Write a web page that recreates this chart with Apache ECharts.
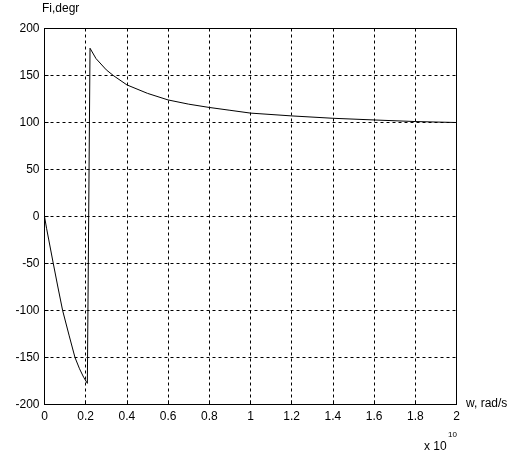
<!DOCTYPE html>
<html>
<head>
<meta charset="utf-8">
<script src="https://cdn.jsdelivr.net/npm/echarts@6/dist/echarts.min.js"></script>
<style>
html,body{margin:0;padding:0;background:#fff;}
#chart{width:511px;height:452px;}
</style>
</head>
<body>
<div id="chart"></div>
<script>
// Frequency w (units of 1e10 rad/s) and phase Fi (degrees)
var wVals   = [0, 0.01, 0.02, 0.0427, 0.065, 0.088, 0.12, 0.148, 0.17, 0.19, 0.208, 0.2125, 0.221, 0.25, 0.3, 0.334, 0.4, 0.5, 0.6, 0.7, 0.8, 0.9, 1.0, 1.2, 1.4, 1.6, 1.8, 2.0];
var phiVals = [0, -12.5, -24, -50, -75, -100, -127, -150, -162, -171, -177.5, -176, 179, 168, 156, 150, 140, 131, 124, 119.5, 116, 113, 110, 107, 104.5, 102.7, 101, 100];
var xTicks = [0, 0.2, 0.4, 0.6, 0.8, 1, 1.2, 1.4, 1.6, 1.8, 2];
var yTicks = [-200, -150, -100, -50, 0, 50, 100, 150, 200];
var yName = 'Fi,degr';
var xName = 'w, rad/s';

var pts = wVals.map(function (w, i) { return [w, phiVals[i]]; });
var font = 'Liberation Sans, Arial, sans-serif';

var chart = echarts.init(document.getElementById('chart'), null, {renderer: 'canvas'});
chart.setOption({
  animation: false,
  backgroundColor: '#fff',
  grid: {left: 44.5, top: 28.5, right: 54.5, bottom: 47.5, show: true, borderColor: '#000', borderWidth: 1, containLabel: false},
  xAxis: {
    type: 'value', min: xTicks[0], max: xTicks[xTicks.length - 1], interval: 0.2,
    axisLine: {show: true, onZero: false, lineStyle: {color: '#000', width: 1}},
    axisTick: {show: true, inside: true, length: 4, lineStyle: {color: '#000'}},
    axisLabel: {color: '#000', fontSize: 12, fontFamily: font, margin: 6,
      formatter: function (v) { return String(Math.round(v * 10) / 10); }},
    splitLine: {show: true, lineStyle: {color: '#000', type: [3, 3], width: 1}}
  },
  yAxis: {
    type: 'value', min: yTicks[0], max: yTicks[yTicks.length - 1], interval: 50,
    axisLine: {show: true, onZero: false, lineStyle: {color: '#000', width: 1}},
    axisTick: {show: true, inside: true, length: 4, lineStyle: {color: '#000'}},
    axisLabel: {color: '#000', fontSize: 12, fontFamily: font, margin: 5},
    splitLine: {show: true, lineStyle: {color: '#000', type: [3, 3], width: 1}}
  },
  graphic: [
    {type: 'text', left: 42, top: 3, style: {text: yName, fill: '#000', font: '12px ' + font}},
    {type: 'text', left: 466, top: 398, style: {text: xName, fill: '#000', font: '12px ' + font}},
    {type: 'text', left: 424, top: 441, style: {text: 'x 10', fill: '#000', font: '12px ' + font}},
    {type: 'text', left: 448, top: 431, style: {text: '10', fill: '#000', font: '8px ' + font}}
  ],
  series: [{
    type: 'line', data: pts, showSymbol: false, symbol: 'none',
    lineStyle: {color: '#000', width: 1}, silent: true
  }]
});
</script>
</body>
</html>
